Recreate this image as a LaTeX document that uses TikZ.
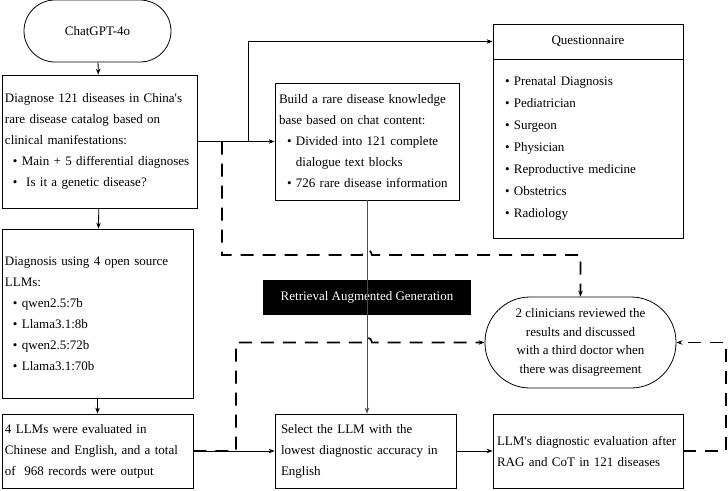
\documentclass[tikz,border=0pt]{standalone}
\usepackage{fontspec}
\setmainfont{Liberation Serif}
\usetikzlibrary{arrows.meta}

\newcommand{\li}{\hspace*{8pt}\textbullet\ }

\begin{document}
\begin{tikzpicture}[x=1pt, y=-1pt, >={Stealth[length=6pt,width=4.5pt]}, line width=0.8pt,
        box/.style={draw, rectangle, align=left, inner xsep=3pt, inner ysep=0pt, font=\fontsize{13}{21}\selectfont},
        pill/.style={draw, rectangle, align=center, font=\fontsize{13}{18.5}\selectfont},
        dashlink/.style={dash pattern=on 13pt off 9pt, line width=1.6pt}]
        \useasboundingbox (0,0) rectangle (728,490);
        \node[pill, rounded corners=31pt, minimum width=147pt, minimum height=62pt] (chat) at (97.5,31) {ChatGPT-4o};
        \node[box, text width=189pt, minimum height=133pt] (diag) at (99.5,141.5) {Diagnose 121 diseases in China\textquotesingle s\\ rare disease catalog based on\\ clinical manifestations:\\ \li Main + 5 differential diagnoses\\ \li\ Is it a genetic disease?};
        \node[box, text width=185pt, minimum height=169pt] (llms) at (97.5,313.5) {Diagnosis using 4 open source\\ LLMs:\\ \li qwen2.5:7b\\ \li Llama3.1:8b\\ \li qwen2.5:72b\\ \li Llama3.1:70b};
        \node[box, text width=185pt, minimum height=74pt] (eval) at (97.5,451) {4 LLMs were evaluated in\\ Chinese and English, and a total\\ of~ 968 records were output};
        \node[box, inner xsep=4pt, text width=176pt, minimum height=117pt] (kb) at (367,141.5) {Build a rare disease knowledge\\ base based on chat content:\\ \li Divided into 121 complete\\ \hspace*{8pt}\phantom{\textbullet\ }dialogue text blocks\\ \li 726 rare disease information};
        \node[box, align=center, text width=184pt, minimum height=35pt] (qtitle) at (588,41.5) {Questionnaire};
        \node[box, inner xsep=4pt, text width=182pt, minimum height=179pt, font=\fontsize{13}{22}\selectfont] (qlist) at (588,148.5) {\li Prenatal Diagnosis\\ \li Pediatrician\\ \li Surgeon\\ \li Physician\\ \li Reproductive medicine\\ \li Obstetrics\\ \li Radiology};
        \node[pill, rounded corners=45pt, minimum width=191pt, minimum height=91pt] (review) at (580.5,342.5) {2 clinicians reviewed the\\ results and discussed\\ with a third doctor when\\ there was disagreement};
        \node[box, inner xsep=6pt, text width=169pt, minimum height=74pt] (select) at (365.5,451) {Select the LLM with the\\ lowest diagnostic accuracy in\\ English};
        \node[box, inner xsep=4pt, text width=182pt, minimum height=74pt] (final) at (588,451) {LLM\textquotesingle s diagnostic evaluation after\\ RAG and CoT in 121 diseases};
        \node[fill=black, text=white, minimum width=208pt, minimum height=35pt, font=\fontsize{13}{16}\selectfont] (rag) at (367,297.5) {Retrieval Augmented Generation};
        \coordinate (branch) at (248,141.5);
        \coordinate (d1) at (222,141.5);
        \coordinate (d2) at (236,342.5);
        \coordinate (d3) at (726,342.5);
        \draw[->] (chat) -- (diag);
        \draw[->] (diag) -- (llms);
        \draw[->] (llms) -- (eval);
        \draw[->] (diag.east) -- (kb.west);
        \draw[->] (branch) |- (qtitle.west);
        \draw[->, black!70] (kb.south) -- (kb.south |- select.north);
        \draw[->] (eval.east) -- (select.west);
        \draw[->] (select.east) -- (final.west);
        % dashed links hop over the solid line at x=367
        \draw[dashlink, ->] (d1) -- (d1 |- 0,255) -- (362,255) arc[start angle=180, end angle=0, radius=5pt] -| (review.north);
        \draw[dashlink, ->] (eval.east) -| (d2) -- (362,342.5) arc[start angle=180, end angle=0, radius=5pt] -- (review.west);
        \draw[dashlink, ->] (final.east) -| (d3) -- (review.east);
    \end{tikzpicture}
\end{document}
